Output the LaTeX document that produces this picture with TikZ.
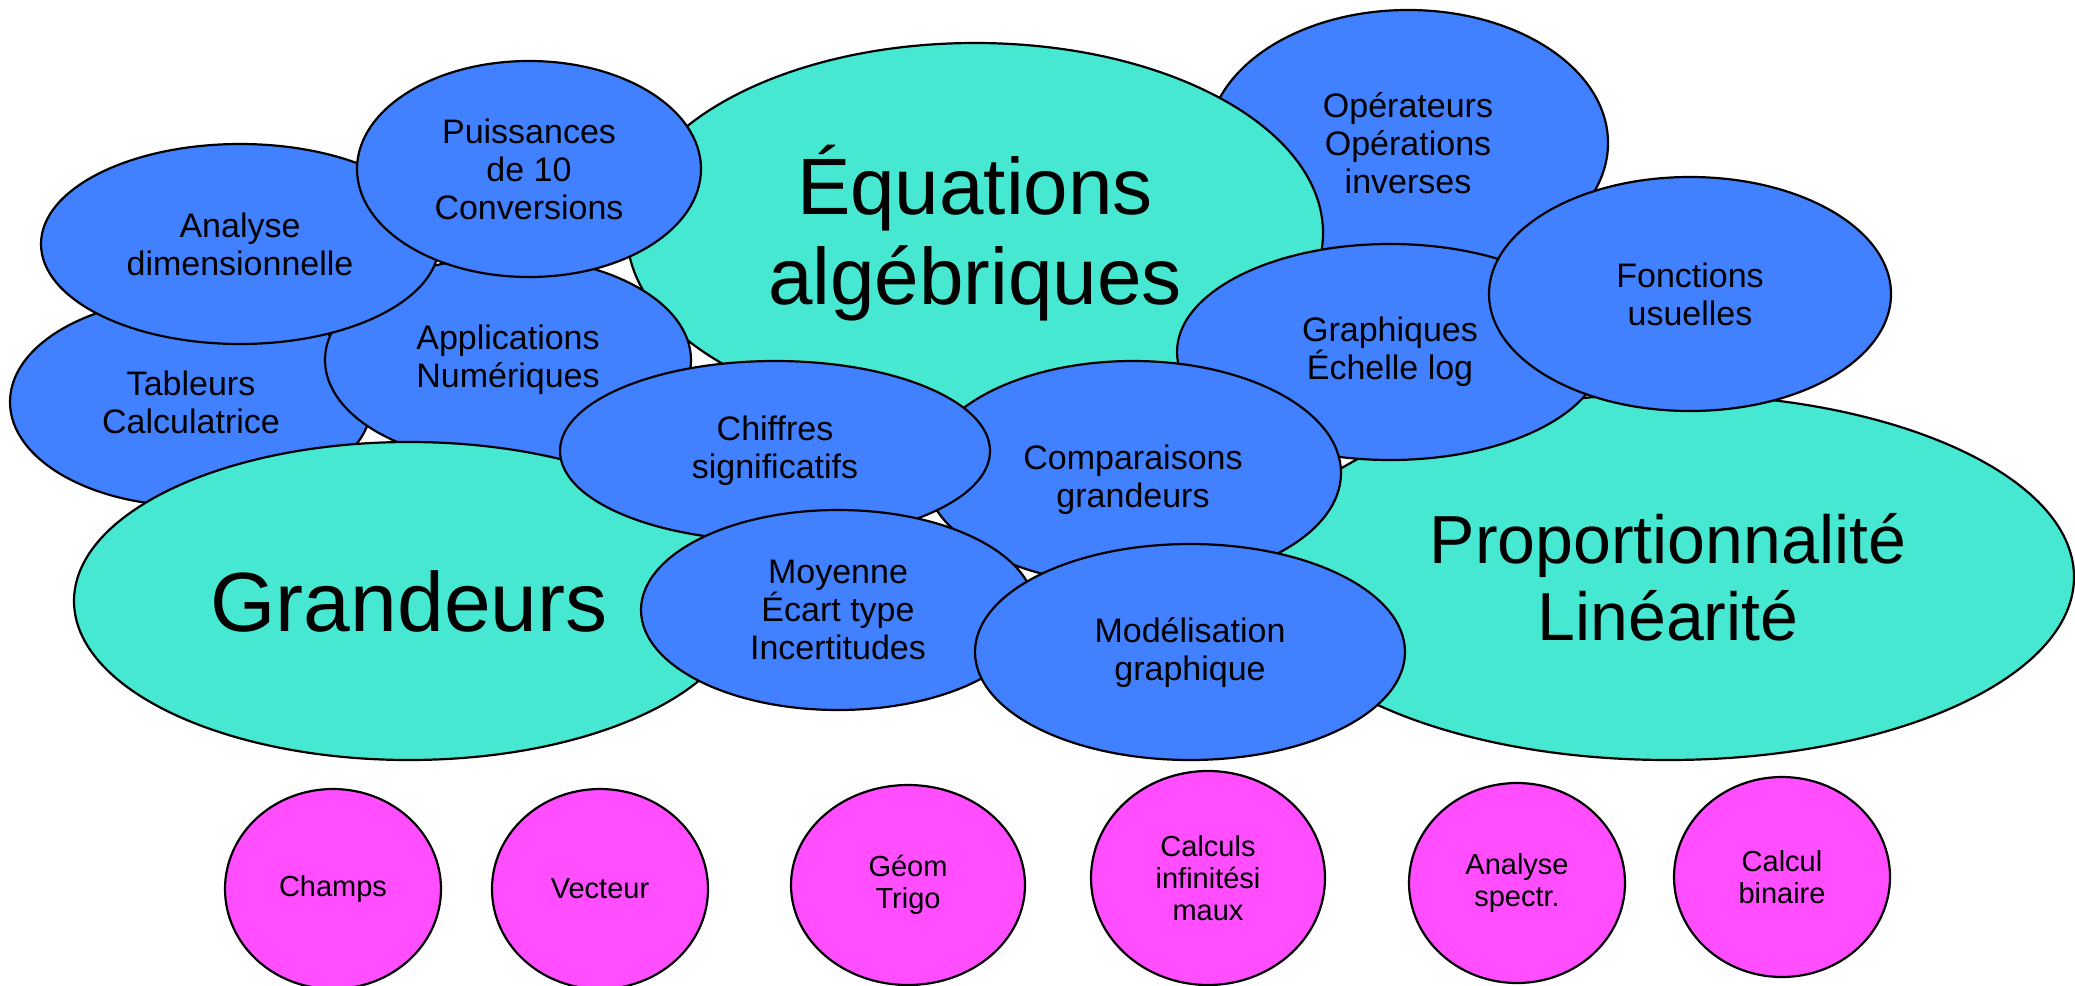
\documentclass[tikz,border=0pt]{standalone}
\usepackage{fontspec}
\setmainfont{Liberation Sans}
\usetikzlibrary{shapes.geometric}
\definecolor{turq}{HTML}{47E8D2}
\definecolor{bleu}{HTML}{4180FF}
\definecolor{rose}{HTML}{FF4DFF}
\tikzset{
  bubble/.style={ellipse, draw=black, line width=1.1pt, inner sep=0pt, align=center, text=black},
  bigbub/.style={bubble, fill=turq},
  midbub/.style={bubble, fill=bleu, font=\fontsize{17}{19}\selectfont},
  smallbub/.style={bubble, fill=rose, font=\fontsize{14.5}{16}\selectfont},
}
\begin{document}
\begin{tikzpicture}[x=0.5pt,y=-0.5pt]
\useasboundingbox (0,0) rectangle (2075,985);
% bottom layer
\node[midbub, minimum width=200pt, minimum height=133pt] (ope) at (1408,143) {Opérateurs\\Opérations\\inverses};
\node[bigbub, minimum width=348pt, minimum height=190pt, font=\fontsize{40}{45}\selectfont] (equ) at (975,233) {Équations\\algébriques};
\node[bigbub, minimum width=406pt, minimum height=183pt, font=\fontsize{34}{38.5}\selectfont] (prop) at (1668,577) {Proportionnalité\\Linéarité};
\node[midbub, minimum width=213pt, minimum height=108pt] (graph) at (1390,352) {Graphiques\\Échelle log};
\node[midbub, minimum width=201pt, minimum height=117pt] (fonc) at (1690,294) {Fonctions\\usuelles};
\node[midbub, minimum width=181pt, minimum height=104pt] (tab) at (191,402) {Tableurs\\Calculatrice};
\node[midbub, minimum width=183pt, minimum height=103pt] (appl) at (508,360) {Applications\\Numériques};
\node[midbub, minimum width=199pt, minimum height=100pt] (anal) at (240,244) {Analyse\\dimensionnelle};
\node[midbub, minimum width=172pt, minimum height=108pt] (puis) at (529,169) {Puissances\\de 10\\Conversions};
\node[bigbub, minimum width=335pt, minimum height=159pt, font=\fontsize{42}{47}\selectfont] (grand) at (409,601) {Grandeurs};
\node[midbub, minimum width=208pt, minimum height=112pt] (comp) at (1133,473) {\raisebox{-4pt}[\height][\depth]{\begin{tabular}{@{}c@{}}Comparaisons\\grandeurs\end{tabular}}};
\node[midbub, minimum width=215pt, minimum height=90pt] (chif) at (775,451) {Chiffres\\significatifs};
\node[midbub, minimum width=197pt, minimum height=100pt] (moy) at (838,610) {Moyenne\\Écart type\\Incertitudes};
\node[midbub, minimum width=215pt, minimum height=108pt] (mod) at (1190,652) {Modélisation\\graphique};
% pink row
\node[smallbub, minimum width=108pt, minimum height=100pt] (champs) at (333,889) {Champs};
\node[smallbub, minimum width=108pt, minimum height=100pt] (vect) at (600,889) {Vecteur};
\node[smallbub, minimum width=117pt, minimum height=100pt] (geom) at (908,885) {Géom\\Trigo};
\node[smallbub, minimum width=117pt, minimum height=107pt] (calc) at (1208,878) {Calculs\\infinitési\\maux};
\node[smallbub, minimum width=108pt, minimum height=100pt] (spec) at (1517,883) {Analyse\\spectr.};
\node[smallbub, minimum width=108pt, minimum height=100pt] (bin) at (1782,877) {Calcul\\binaire};
\end{tikzpicture}
\end{document}
